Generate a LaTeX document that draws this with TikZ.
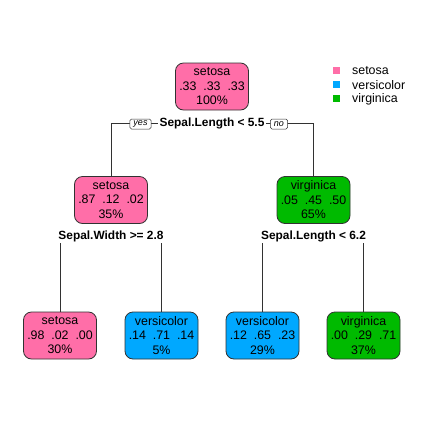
\documentclass[tikz,border=0pt]{standalone}
\usepackage{fontspec}
\setmainfont{Liberation Sans}
\definecolor{cset}{RGB}{255,110,168}
\definecolor{cver}{RGB}{0,168,255}
\definecolor{cvir}{RGB}{0,186,0}
\definecolor{edge}{RGB}{50,50,50}
\begin{document}
\begin{tikzpicture}[x=1pt,y=-1pt,
  tbox/.style={draw=edge,line width=0.8pt,rounded corners=8pt,minimum width=73pt,minimum height=47pt,
    inner sep=1pt,align=center,font=\fontsize{12.4}{14.5}\selectfont},
  split/.style={font=\bfseries\fontsize{11.9}{13}\selectfont,inner sep=1pt},
  yn/.style={draw=edge,line width=0.5pt,fill=white,rounded corners=1.5pt,font=\itshape\fontsize{9}{10}\selectfont,inner xsep=3.5pt,inner ysep=0pt,minimum height=10pt},
  conn/.style={draw=edge,line width=0.7pt},
  lsq/.style={minimum size=7pt,inner sep=0pt},
  ltxt/.style={anchor=west,font=\fontsize{12.4}{14}\selectfont,inner sep=0pt}]
\useasboundingbox (0,0) rectangle (424,424);
% nodes
\node[tbox,fill=cset] (root) at (212,86.5) {setosa\\.33\ \ .33\ \ .33\\100\%};
\node[split] (s1) at (212,123) {Sepal.Length < 5.5};
\node[tbox,fill=cset] (L) at (111,200) {setosa\\.87\ \ .12\ \ .02\\35\%};
\node[tbox,fill=cvir] (R) at (313.5,200) {virginica\\.05\ \ .45\ \ .50\\65\%};
\node[split] (s2) at (111,236) {Sepal.Width >= 2.8};
\node[split] (s3) at (313.5,236) {Sepal.Length < 6.2};
\node[tbox,fill=cset] (LL) at (60,335.5) {setosa\\.98\ \ .02\ \ .00\\30\%};
\node[tbox,fill=cver] (LR) at (161.5,335.5) {versicolor\\.14\ \ .71\ \ .14\\5\%};
\node[tbox,fill=cver] (RL) at (262.5,335.5) {versicolor\\.12\ \ .65\ \ .23\\29\%};
\node[tbox,fill=cvir] (RR) at (363.5,335.5) {virginica\\.00\ \ .29\ \ .71\\37\%};
% connectors
\draw[conn] (L.north) |- (s1.west);
\draw[conn] (R.north) |- (s1.east);
\draw[conn] (LL.north) -- (LL.north |- s2.south);
\draw[conn] (LR.north) -- (LR.north |- s2.south);
\draw[conn] (RL.north) -- (RL.north |- s3.south);
\draw[conn] (RR.north) -- (RR.north |- s3.south);
\node[yn] (yes) at (140.5,124) {yes};
\node[yn] (no) at (279,124) {no};
% legend
\node[lsq,fill=cset] (k1) at (336.5,70) {};
\node[lsq,fill=cver] (k2) at (336.5,84.5) {};
\node[lsq,fill=cvir] (k3) at (336.5,98.5) {};
\node[ltxt] (t1) at (352,70.5) {setosa};
\node[ltxt] (t2) at (352,85) {versicolor};
\node[ltxt] (t3) at (352,99.5) {virginica};
\end{tikzpicture}
\end{document}
